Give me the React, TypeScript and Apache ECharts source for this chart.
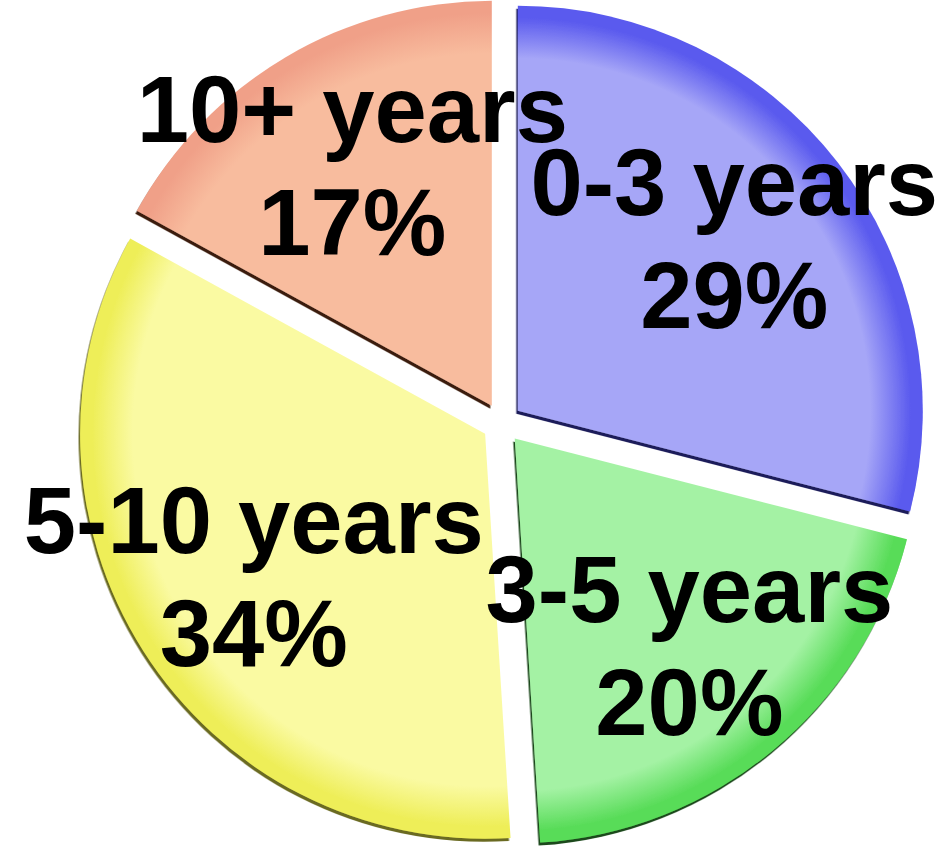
import React, { useEffect, useRef } from "react";
import * as echarts from "echarts";

const categories = ["0-3 years", "3-5 years", "5-10 years", "10+ years"];
const values = [29, 20, 34, 17];
const lightColors = ["#a6a6f7", "#a4f2a4", "#fafaa2", "#f8bc9e"];
const rimColors = ["#5a5aee", "#58dc58", "#eeee58", "#f0a088"];
const shadowColors = ["#1a1a5a", "#1a4a1a", "#6a6a20", "#3a1a10"];

const CX = 502;
const CY = 423;
const R = 405;
const LABEL_CY = 419;
const LABEL_R = 294;

function grad(i: number) {
  return {
    type: "radial",
    x: CX,
    y: CY,
    r: R,
    global: true,
    colorStops: [
      { offset: 0, color: lightColors[i] },
      { offset: 0.87, color: lightColors[i] },
      { offset: 0.97, color: rimColors[i] },
      { offset: 1, color: rimColors[i] },
    ],
  };
}

export default function App() {
  const ref = useRef<HTMLDivElement>(null);
  useEffect(() => {
    if (!ref.current) return;
    const chart = echarts.init(ref.current, undefined, { renderer: "svg" });
    const total = values.reduce((a, b) => a + b, 0);
    const mainData = categories.map((name, i) => ({
      name,
      value: values[i],
      selected: true,
      itemStyle: {
        color: grad(i),
        shadowColor: shadowColors[i],
        shadowBlur: 0,
        shadowOffsetX: -1.5,
        shadowOffsetY: 3,
      },
    }));
    let cum = 0;
    const labelData = categories.map((name, i) => {
      const mid = cum + values[i] / 2;
      cum += values[i];
      return { name, value: [LABEL_R, mid], pct: Math.round((values[i] / total) * 100) };
    });
    chart.setOption({
      animation: false,
      backgroundColor: "#ffffff",
      polar: { center: [CX, LABEL_CY], radius: R },
      angleAxis: {
        type: "value",
        min: 0,
        max: total,
        startAngle: 90,
        clockwise: true,
        show: false,
      },
      radiusAxis: { type: "value", min: 0, max: R, show: false },
      series: [
        {
          type: "pie",
          center: [CX, CY],
          radius: R,
          startAngle: 90,
          clockwise: true,
          selectedMode: "multiple",
          selectedOffset: 20,
          silent: true,
          label: { show: false },
          labelLine: { show: false },
          emphasis: { disabled: true },
          data: mainData,
        },
        {
          type: "scatter",
          coordinateSystem: "polar",
          symbolSize: 0,
          silent: true,
          z: 10,
          itemStyle: { opacity: 1 },
          label: {
            show: true,
            position: "inside",
            formatter: (p: any) => `${p.name}\n${p.data.pct}%`,
            color: "#000000",
            opacity: 1,
            fontFamily: "Liberation Sans, Arial, sans-serif",
            fontWeight: "bold",
            fontSize: 94,
            lineHeight: 113,
            align: "center",
            verticalAlign: "middle",
          },
          data: labelData,
        },
      ],
    });
    return () => chart.dispose();
  }, []);
  return (
    <div
      ref={ref}
      style={{ position: "absolute", left: 0, top: 0, width: 949, height: 849 }}
    />
  );
}
